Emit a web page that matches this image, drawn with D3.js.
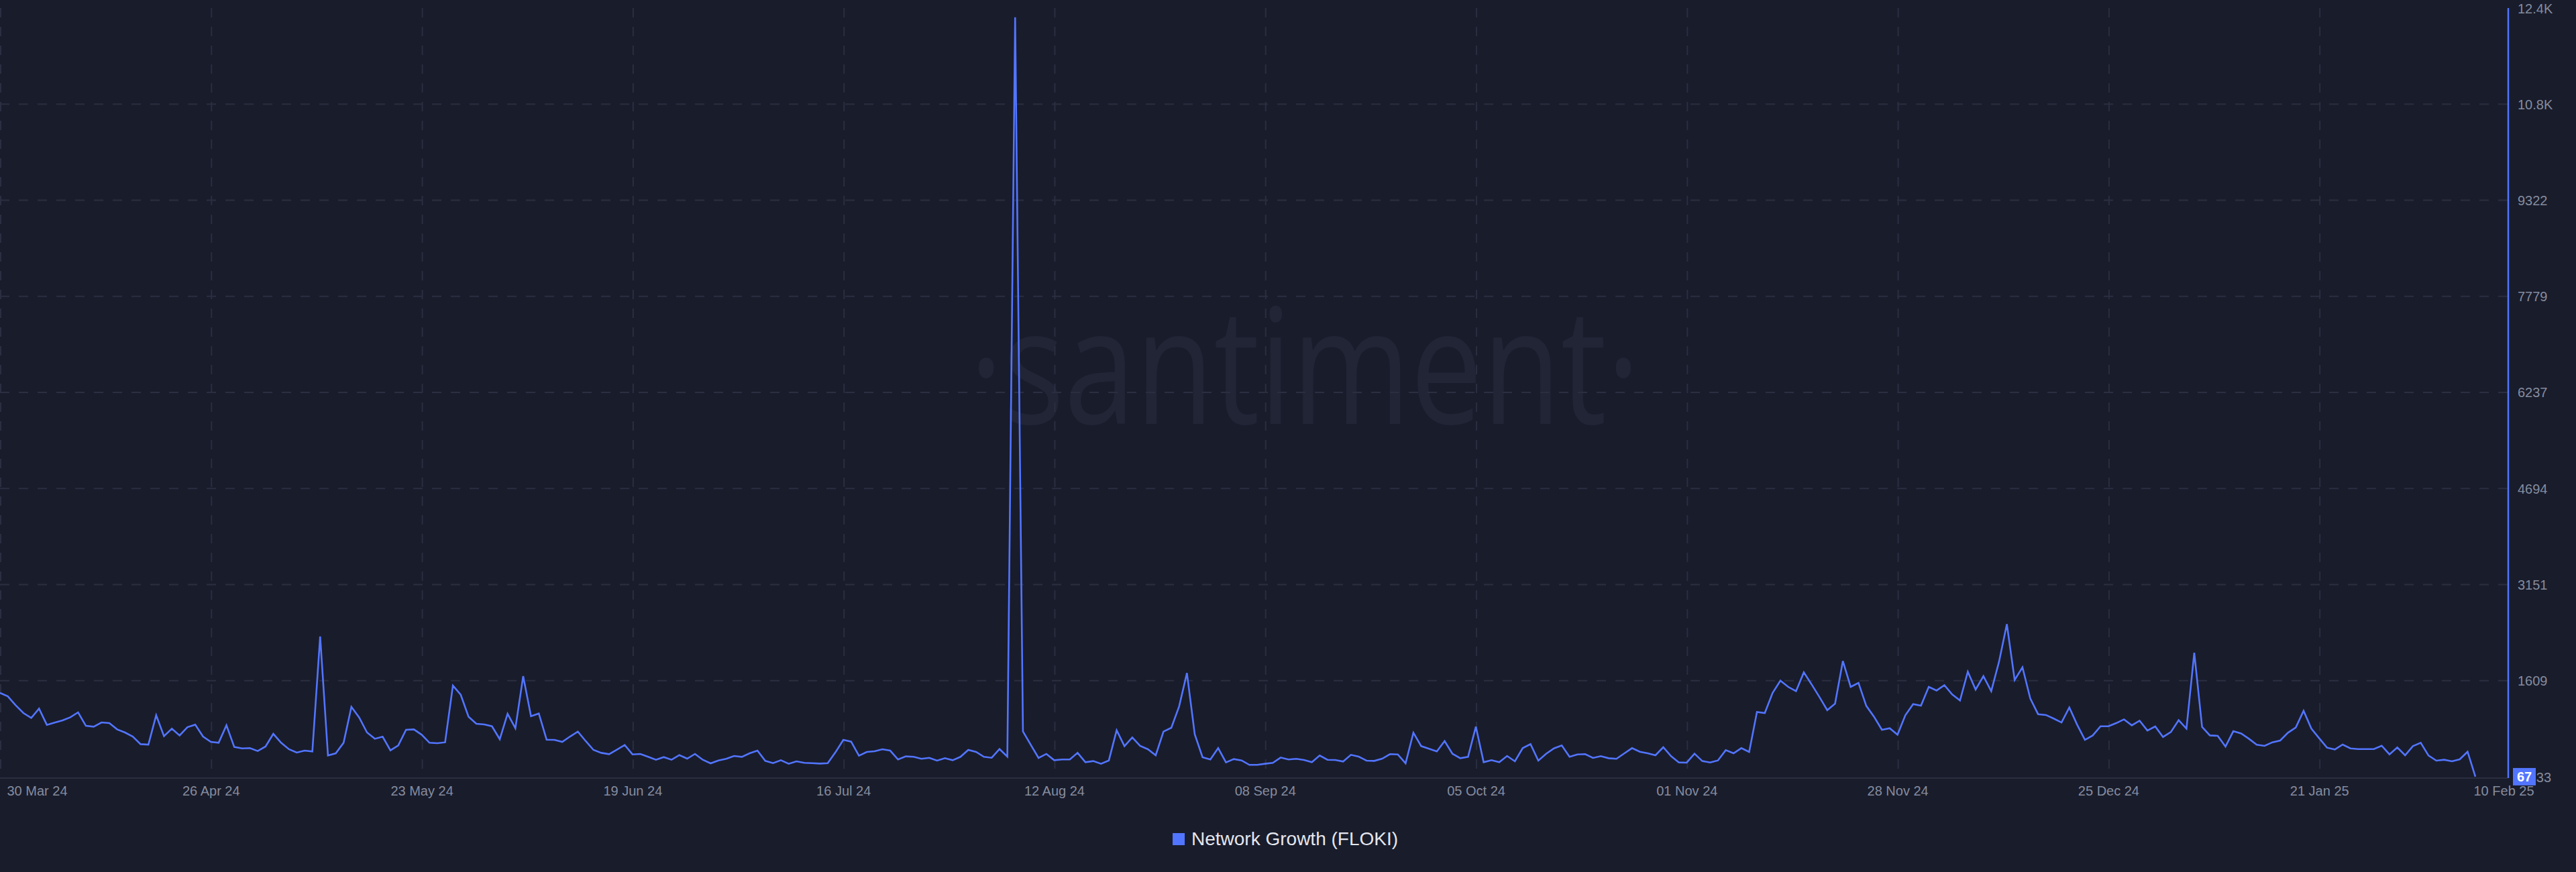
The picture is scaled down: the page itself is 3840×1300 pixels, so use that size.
<!DOCTYPE html>
<html>
<head>
<meta charset="utf-8">
<script src="https://cdn.jsdelivr.net/npm/d3@7"></script>
<style>
  html, body { margin: 0; padding: 0; background: #191c2b; }
  svg { display: block; }
</style>
</head>
<body>
<svg id="chart" width="3840" height="1300"></svg>
<script>
// ---------- DATA ----------
const seriesName = "Network Growth (FLOKI)";
const startDate = "2024-03-30";
const endDate = "2025-02-10";
const networkGrowth = [
  1412,1358,1214,1089,1010,1161,899,935,971,1021,
  1100,884,870,938,927,827,777,712,590,583,
  1053,719,838,730,863,902,712,626,612,892,
  544,522,526,479,551,755,612,508,454,486,
  472,2319,407,443,612,1189,1017,777,676,709,
  490,569,820,827,741,612,605,619,1530,1383,
  1031,917,906,877,669,1078,845,1681,1039,1082,
  662,658,626,712,791,640,497,450,429,501,
  576,425,433,386,339,382,339,414,357,433,
  339,282,328,354,400,386,443,486,321,285,
  332,275,314,289,285,278,285,461,658,630,
  404,465,476,508,486,343,393,386,354,371,
  325,364,332,386,497,465,386,371,511,389,
  12260,795,580,368,433,332,343,343,450,300,
  318,275,328,813,558,698,562,508,411,791,
  852,1196,1731,748,379,343,526,296,350,328,
  257,257,275,289,375,343,354,336,300,407,
  339,336,311,418,389,325,321,357,429,425,
  282,773,558,515,472,640,436,364,386,870,
  300,332,300,400,314,526,590,325,436,522,
  569,386,425,429,368,397,364,354,440,526,
  468,443,411,540,397,296,293,436,318,296,
  328,493,443,526,465,1107,1089,1412,1609,1509,
  1440,1742,1548,1347,1136,1240,1925,1509,1573,1204,
  1028,820,845,741,1053,1232,1207,1509,1451,1537,
  1387,1290,1752,1466,1681,1440,1914,2516,1620,1824,
  1322,1071,1058,1000,938,1179,902,658,730,877,
  877,927,988,892,967,809,874,705,784,974,
  838,2057,866,730,723,551,798,762,676,580,
  562,619,648,773,856,1125,838,684,533,504,
  583,522,511,511,511,565,425,536,411,558,
  612,407,325,339,314,346,468,67
];
const xTickDates = ["2024-03-30","2024-04-26","2024-05-23","2024-06-19","2024-07-16","2024-08-12",
  "2024-09-08","2024-10-05","2024-11-01","2024-11-28","2024-12-25","2025-01-21","2025-02-10"];
const xTickLabels = ["30 Mar 24","26 Apr 24","23 May 24","19 Jun 24","16 Jul 24","12 Aug 24",
  "08 Sep 24","05 Oct 24","01 Nov 24","28 Nov 24","25 Dec 24","21 Jan 25","10 Feb 25"];
const yTickValues = [66.33,1609,3151.5,4694,6237,7779,9322,10864.5,12407];
const yTickLabels = ["66.33","1609","3151","4694","6237","7779","9322","10.8K","12.4K"];
const lastValueLabel = "67";

// ---------- SETUP ----------
const W = 3840, H = 1300;
const plotRight = 3738;
const lineColor = "#5275ff";
const gridColor = "#2a2e40";
const tickColor = "#858c9f";
const font = "'Liberation Sans', Arial, sans-serif";

const parse = d3.utcParse("%Y-%m-%d");
const dates = d3.utcDay.range(parse(startDate), d3.utcDay.offset(parse(endDate), 1));
const data = dates.map((d, i) => ({ d, v: networkGrowth[i] }));

const x = d3.scaleUtc().domain([parse(startDate), parse(endDate)]).range([0, 3690]);
const y = d3.scaleLinear().domain([yTickValues[0], yTickValues[yTickValues.length - 1]]).range([1158, 12]);

const svg = d3.select("#chart");
svg.append("rect").attr("width", W).attr("height", H).attr("fill", "#191c2b");

// watermark
svg.append("text")
  .attr("x", 1445).attr("y", 632)
  .attr("textLength", 1000).attr("lengthAdjust", "spacingAndGlyphs")
  .attr("font-family", "'Open Sans', sans-serif")
  .attr("font-size", 240)
  .attr("fill", "#212536")
  .text("\u00B7santiment\u00B7");

// horizontal grid
const gridY = svg.append("g");
gridY.selectAll("line").data(yTickValues.slice(1, -1)).join("line")
  .attr("x1", 0).attr("x2", plotRight)
  .attr("y1", d => y(d)).attr("y2", d => y(d))
  .attr("stroke", gridColor).attr("stroke-width", 2).attr("stroke-dasharray", "14,14");

// vertical grid
const tickDates = xTickDates.map(parse);
svg.append("g").selectAll("line").data(tickDates.slice(0, -1)).join("line")
  .attr("x1", d => x(d) + 1).attr("x2", d => x(d) + 1)
  .attr("y1", 12).attr("y2", 1147)
  .attr("stroke", gridColor).attr("stroke-width", 2).attr("stroke-dasharray", "14,14");

// x axis baseline
svg.append("line").attr("x1", 0).attr("x2", plotRight).attr("y1", 1160).attr("y2", 1160)
  .attr("stroke", gridColor).attr("stroke-width", 2);

// line
svg.append("clipPath").attr("id", "clip").append("rect")
  .attr("x", 0).attr("y", 0).attr("width", plotRight).attr("height", 1162);
const line = d3.line().x(d => x(d.d)).y(d => y(d.v));
svg.append("path").datum(data)
  .attr("clip-path", "url(#clip)")
  .attr("d", line)
  .attr("fill", "none").attr("stroke", lineColor).attr("stroke-width", 2.6)
  .attr("stroke-linejoin", "miter");

// x axis labels
const xAxis = d3.axisBottom(x).tickValues(tickDates)
  .tickFormat((d, i) => xTickLabels[i]).tickSize(0).tickPadding(0);
const gx = svg.append("g").attr("transform", "translate(0,1172)").call(xAxis);
gx.select(".domain").remove();
gx.selectAll("text")
  .attr("font-family", font).attr("font-size", 20).attr("fill", tickColor)
  .attr("dy", "0.71em");
const nX = tickDates.length;
gx.selectAll(".tick").each(function(d, i) {
  const t = d3.select(this).select("text");
  if (i === 0) t.attr("text-anchor", "start").attr("x", 10);
  if (i === nX - 1) t.attr("text-anchor", "start").attr("x", -3);
});

// y axis line (series coloured)
svg.append("line").attr("x1", 3739).attr("x2", 3739).attr("y1", 12).attr("y2", 1160)
  .attr("stroke", lineColor).attr("stroke-width", 2.5);

// y axis labels
const yAxis = d3.axisRight(y).tickValues(yTickValues)
  .tickFormat((d, i) => yTickLabels[i]).tickSize(0).tickPadding(0);
const gy = svg.append("g").attr("transform", "translate(3753,0)").call(yAxis);
gy.select(".domain").remove();
gy.selectAll("text")
  .attr("font-family", font).attr("font-size", 20).attr("fill", tickColor)
  .attr("x", 0).attr("dy", "0.35em").attr("text-anchor", "start");

// last value badge
const last = data[data.length - 1];
const by = y(last.v);
svg.append("rect").attr("x", 3746).attr("y", by - 13).attr("width", 34).attr("height", 26)
  .attr("fill", lineColor);
svg.append("text").attr("x", 3763).attr("y", by).attr("dy", "0.35em")
  .attr("text-anchor", "middle").attr("font-family", font).attr("font-weight", "bold")
  .attr("font-size", 20).attr("fill", "#ffffff").text(lastValueLabel);

// legend
const lg = svg.append("g");
lg.append("rect").attr("x", 1748).attr("y", 1242).attr("width", 18).attr("height", 18).attr("fill", lineColor);
lg.append("text").attr("x", 1776).attr("y", 1260)
  .attr("font-family", font).attr("font-size", 28).attr("fill", "#e4e6ee")
  .text(seriesName);
</script>
</body>
</html>
